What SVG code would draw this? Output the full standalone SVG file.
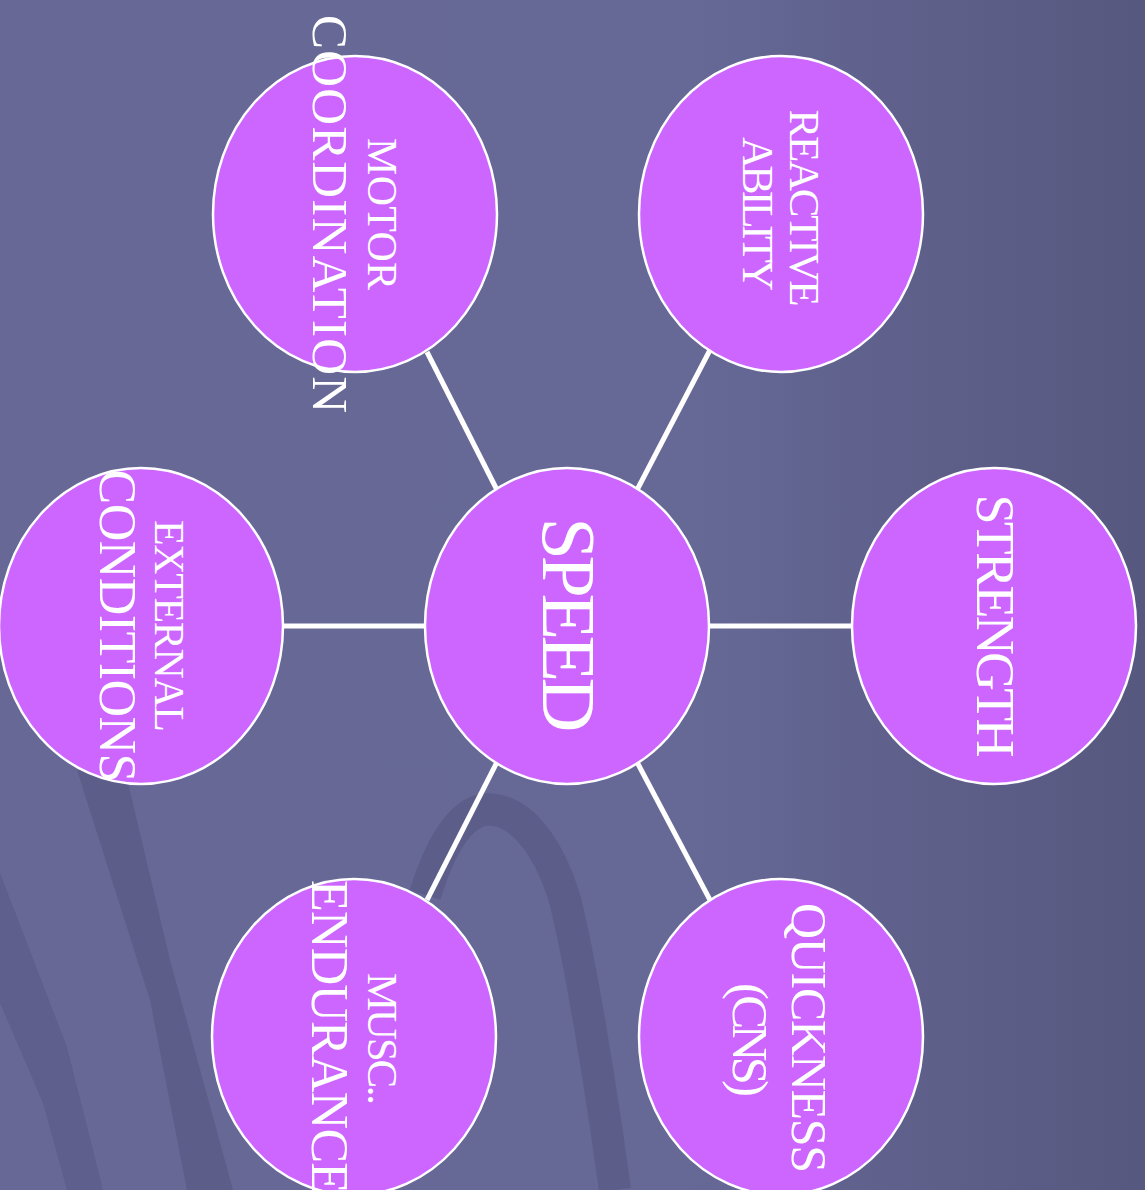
<svg xmlns="http://www.w3.org/2000/svg" width="1145" height="1190" viewBox="0 0 1145 1190">
<style>
.node{fill:#cc66ff;stroke:#ffffff;stroke-width:2.5}
.lbl{fill:#ffffff;font-family:"Liberation Serif","DejaVu Serif",serif;text-anchor:middle}
.conn{stroke:#ffffff;stroke-width:5;fill:none}
.swoosh{fill:#5c5d89}
</style>
<defs>
<linearGradient id="bg" x1="0" y1="0" x2="1145" y2="0" gradientUnits="userSpaceOnUse">
<stop offset="0" stop-color="#676896"/>
<stop offset="0.6" stop-color="#666896"/>
<stop offset="1" stop-color="#56587f"/>
</linearGradient>
</defs>
<rect width="1145" height="1190" fill="url(#bg)"/>
<g id="background-swooshes">
<polygon class="swoosh" points="77,770 125,770 170,960 233,1190 187,1190 150,1000"/>
<polygon class="swoosh" opacity="0.8" points="0,873 67,1047 103,1190 67,1190 43,1103 0,1003"/>
<path d="M425 895 C445 830 470 805 495 810 C525 815 550 850 565 900 C580 960 600 1080 615 1190" fill="none" stroke="#5c5d89" stroke-width="32"/>
</g>
<g id="connectors">
<line class="conn" x1="497" y1="490" x2="427" y2="352"/>
<line class="conn" x1="637" y1="490" x2="710" y2="350"/>
<line class="conn" x1="283" y1="626" x2="425" y2="626"/>
<line class="conn" x1="710" y1="626" x2="852" y2="626"/>
<line class="conn" x1="497" y1="762" x2="427" y2="900"/>
<line class="conn" x1="637" y1="762" x2="710" y2="900"/>
</g>
<g id="node-motor-coordination">
<ellipse class="node" cx="355" cy="214" rx="142" ry="158"/>
<text class="lbl" font-size="42" textLength="152" transform="translate(368,214) rotate(90)">MOTOR</text>
<text class="lbl" font-size="51" textLength="398" transform="translate(313,214) rotate(90)">COORDINATION</text>
</g>
<g id="node-reactive-ability">
<ellipse class="node" cx="781" cy="214" rx="142" ry="158"/>
<text class="lbl" font-size="43" textLength="197" transform="translate(790,208) rotate(90)">REACTIVE</text>
<text class="lbl" font-size="44" textLength="154" transform="translate(743,214) rotate(90)">ABILITY</text>
</g>
<g id="node-external-conditions">
<ellipse class="node" cx="141" cy="626" rx="142" ry="158"/>
<text class="lbl" font-size="42" textLength="212" transform="translate(155,626) rotate(90)">EXTERNAL</text>
<text class="lbl" font-size="52" textLength="313" transform="translate(100,626) rotate(90)">CONDITIONS</text>
</g>
<g id="node-speed">
<ellipse class="node" cx="567" cy="626" rx="142" ry="158"/>
<text class="lbl" font-size="76" textLength="215" transform="translate(543,625) rotate(90)">SPEED</text>
</g>
<g id="node-strength">
<ellipse class="node" cx="994" cy="626" rx="142" ry="158"/>
<text class="lbl" font-size="54" textLength="263" transform="translate(977,626) rotate(90)">STRENGTH</text>
</g>
<g id="node-musc-endurance">
<ellipse class="node" cx="354" cy="1037" rx="142" ry="158"/>
<text class="lbl" font-size="43" textLength="132" transform="translate(368,1039) rotate(90)">MUSC..</text>
<text class="lbl" font-size="52" textLength="314" transform="translate(312,1037) rotate(90)">ENDURANCE</text>
</g>
<g id="node-quickness-cns">
<ellipse class="node" cx="781" cy="1037" rx="142" ry="158"/>
<text class="lbl" font-size="50" textLength="270" transform="translate(792,1038) rotate(90)">QUICKNESS</text>
<text class="lbl" font-size="51" textLength="114" transform="translate(733,1040) rotate(90)">(CNS)</text>
</g>
</svg>
